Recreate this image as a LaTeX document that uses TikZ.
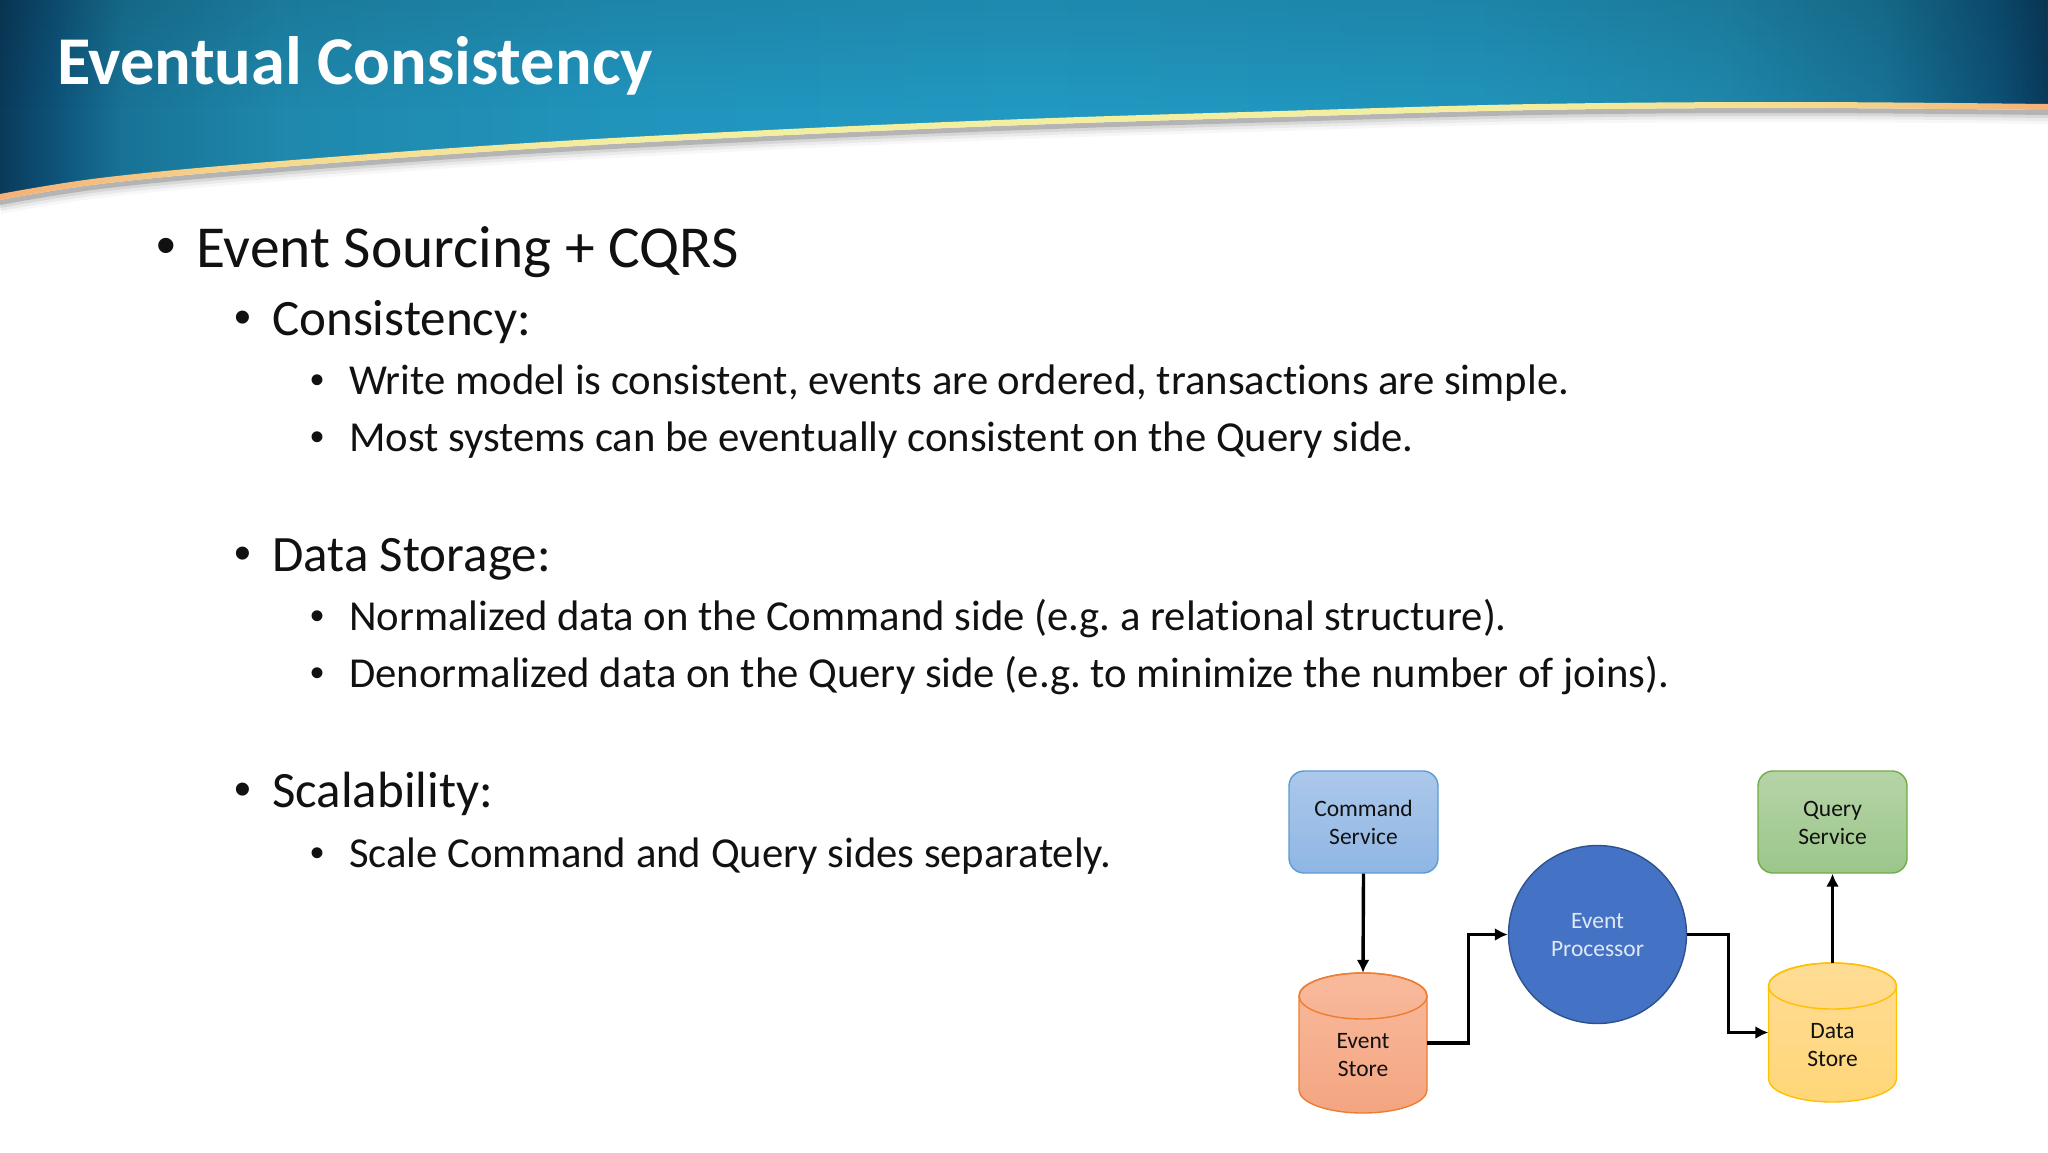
\documentclass[tikz,border=0pt]{standalone}
\usepackage{fontspec}
\setmainfont[Ligatures=CommonOff]{Carlito}
\newfontfamily\bulletfont{Liberation Sans}
\usetikzlibrary{arrows.meta,fadings}
\definecolor{txt}{HTML}{111111}
\definecolor{ba}{HTML}{0A3A5A}
\definecolor{bb}{HTML}{0D5076}
\definecolor{bc}{HTML}{187396}
\definecolor{bd}{HTML}{1F88AC}
\definecolor{be}{HTML}{2194BC}
\definecolor{bf}{HTML}{2299C2}
\definecolor{sa}{HTML}{F4B078}
\definecolor{sb}{HTML}{F5D78C}
\definecolor{sc}{HTML}{F4EEA0}
\definecolor{cmdtop}{HTML}{ACC8EA}
\definecolor{cmdbot}{HTML}{8FB6E4}
\definecolor{cmdline}{HTML}{5B9BD5}
\definecolor{qrytop}{HTML}{B6D4A7}
\definecolor{qrybot}{HTML}{9BC68A}
\definecolor{qryline}{HTML}{70AD47}
\definecolor{estop}{HTML}{F8BA9C}
\definecolor{esbot}{HTML}{F4A582}
\definecolor{esline}{HTML}{ED7D31}
\definecolor{dstop}{HTML}{FFDC96}
\definecolor{dsbot}{HTML}{FFD678}
\definecolor{dsline}{HTML}{FFC000}
\definecolor{epfill}{HTML}{4472C4}
\definecolor{epline}{HTML}{2F528F}
\definecolor{eptext}{HTML}{E1E8F5}
\pgfdeclarehorizontalshading{bannershade}{100bp}{
  color(0bp)=(ba);
  color(25bp)=(ba);
  color(26.2bp)=(bb);
  color(28bp)=(bc);
  color(32bp)=(bd);
  color(40bp)=(be);
  color(50bp)=(bf);
  color(61bp)=(be);
  color(67bp)=(bd);
  color(71bp)=(bc);
  color(73.8bp)=(bb);
  color(75bp)=(ba);
  color(100bp)=(ba)}
\pgfdeclarehorizontalshading{stripeshade}{100bp}{
  color(0bp)=(sa);
  color(25bp)=(sa);
  color(31bp)=(sb);
  color(40bp)=(sc);
  color(62bp)=(sc);
  color(70bp)=(sb);
  color(75bp)=(sa);
  color(100bp)=(sa)}
\newcommand{\curvepts}[1]{(0,197+#1) (100,181+#1) (256,166+#1) (512,147+#1) (768,133+#1) (1024,122+#1) (1280,114+#1) (1536,107+#1) (1792,105+#1) (2048,107+#1)}
\newcommand{\mydrum}[6]{%
  \path[line width=1.4pt,draw=#6,top color=#4,bottom color=#5]
    (#1-64,#2+23) -- (#1-64,#3-23) arc[start angle=180,end angle=0,x radius=64,y radius=23]
    -- (#1+64,#2+23) arc[start angle=0,end angle=-180,x radius=64,y radius=23] -- cycle;
  \draw[line width=1.4pt,draw=#6] (#1,#2+23) ellipse[x radius=64,y radius=23];
}
\tikzset{
  x=1pt,y=-1pt,
  lvla/.style={anchor=base west,inner sep=0pt,text=txt,font=\fontsize{59.5}{62}\selectfont},
  lvlb/.style={anchor=base west,inner sep=0pt,text=txt,font=\fontsize{51}{54}\selectfont},
  lvlc/.style={anchor=base west,inner sep=0pt,text=txt,font=\fontsize{42.7}{46}\selectfont\frenchspacing},
  dota/.style={anchor=base west,inner sep=0pt,text=txt,font=\bulletfont\fontsize{56}{60}\selectfont},
  dotb/.style={anchor=base west,inner sep=0pt,text=txt,font=\bulletfont\fontsize{48}{52}\selectfont},
  dotc/.style={anchor=base west,inner sep=0pt,text=txt,font=\bulletfont\fontsize{40}{46}\selectfont},
  svc/.style={rounded corners=15pt,minimum width=149pt,minimum height=102pt,inner sep=0pt,line width=1.4pt,
    align=center,text=txt,font=\fontsize{23.5}{28}\selectfont},
  drumbox/.style={minimum width=128pt,inner sep=0pt},
  drumtext/.style={inner sep=0pt,align=center,text=txt,font=\fontsize{23.5}{28}\selectfont},
  conn/.style={line width=3.4pt,draw=black,-{Latex[length=13pt,width=13pt]}},
}
\begin{document}
\begin{tikzpicture}
\useasboundingbox (0,0) rectangle (2048,1152);
\fill[white] (0,0) rectangle (2048,1152);
% drop shadow under the banner
\foreach \d/\o in {14/0.03,11/0.05,8/0.08,5/0.16}{
  \draw[line width=\d pt,draw=black,opacity=\o] plot[smooth,tension=0.6] coordinates {\curvepts{3+\d/2}};
}
% banner
\path[shading=bannershade] (0,0) -- (2048,0) -- (2048,107) -- plot[smooth,tension=0.6] coordinates {(2048,107) (1792,105) (1536,107) (1280,114) (1024,122) (768,133) (512,147) (256,166) (100,181) (0,197)} -- cycle;
% darkening toward the top of the banner
\fill[black,opacity=0.10,path fading=south] (0,0) rectangle (2048,110);
% cream stripe
\path[shading=stripeshade] plot[smooth,tension=0.6] coordinates {\curvepts{-3}} -- plot[smooth,tension=0.6] coordinates {(2048,110) (1792,108) (1536,110) (1280,117) (1024,125) (768,136) (512,150) (256,169) (100,184) (0,200)} -- cycle;

\node[anchor=base west,inner sep=0pt,text=white,font=\bfseries\fontsize{68.4}{72}\selectfont] (title) at (57,84) {Eventual Consistency};

\node[dota] (ba) at (156,264) {•}; \node[lvla] (ta) at (196,267) {Event Sourcing + CQRS};
\node[dotb] (bb) at (234,333) {•}; \node[lvlb] (tb) at (272,335) {Consistency:};
\node[dotc] (bc) at (310,393) {•}; \node[lvlc] (tc) at (349,394) {Write model is consistent, events are ordered, transactions are simple.};
\node[dotc] (bd) at (310,450) {•}; \node[lvlc] (td) at (349,451) {Most systems can be eventually consistent on the Query side.};
\node[dotb] (be) at (234,569) {•}; \node[lvlb] (te) at (272,571) {Data Storage:};
\node[dotc] (bf) at (310,629) {•}; \node[lvlc] (tf) at (349,630) {Normalized data on the Command side (e.g. a relational structure).};
\node[dotc] (bg) at (310,686) {•}; \node[lvlc] (tg) at (349,687) {Denormalized data on the Query side (e.g. to minimize the number of joins).};
\node[dotb] (bh) at (234,805) {•}; \node[lvlb] (th) at (272,807) {Scalability:};
\node[dotc] (bi) at (310,866) {•}; \node[lvlc] (ti) at (349,867) {Scale Command and Query sides separately.};

% diagram
\node[svc,draw=cmdline,top color=cmdtop,bottom color=cmdbot] (cmd) at (1363.5,822) {Command\\Service};
\node[svc,draw=qryline,top color=qrytop,bottom color=qrybot] (qry) at (1832.5,822) {\vphantom{d}Query\\Service};
\node[circle,minimum size=178pt,inner sep=0pt,line width=1.4pt,draw=epline,fill=epfill,align=center,text=eptext,font=\fontsize{23.5}{28}\selectfont] (ep) at (1597.5,934.5) {\vphantom{d}Event\\Processor};

\mydrum{1363}{973}{1113}{estop}{esbot}{esline}
\mydrum{1832.5}{963}{1102}{dstop}{dsbot}{dsline}
\node[drumbox,minimum height=140pt] (es) at (1363,1043) {};
\node[drumbox,minimum height=139pt] (ds) at (1832.5,1032.5) {};
\node[drumtext] (eslabel) at (1363,1055.5) {Event\\Store};
\node[drumtext] (dslabel) at (1832.5,1045) {Data\\Store};

\draw[conn] (cmd.south) -- (es.north);
\draw[conn] (es.east) -- ++(41,0) |- (ep.west);
\draw[conn] (ep.east) -- ++(41,0) |- (ds.west);
\draw[conn] (ds.north) -- (qry.south);
\end{tikzpicture}
\end{document}
